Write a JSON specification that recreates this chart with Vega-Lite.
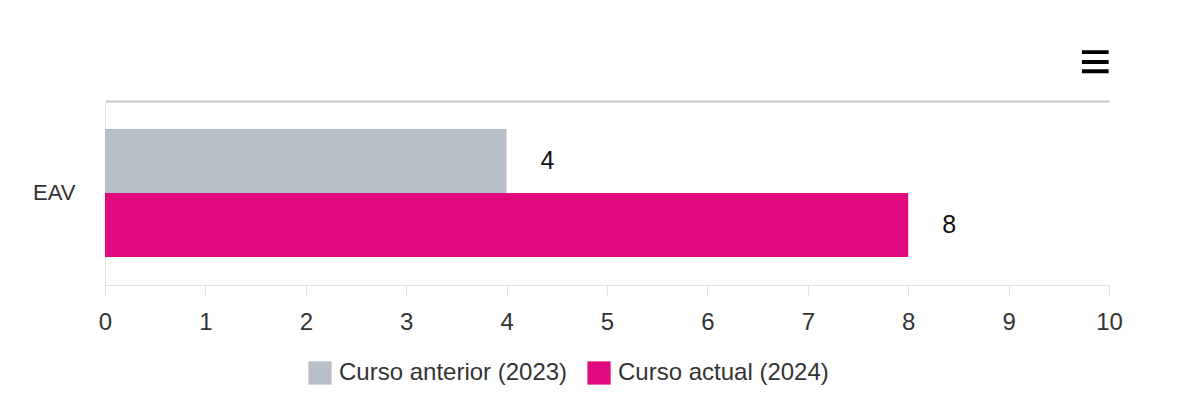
{
  "$schema": "https://vega.github.io/schema/vega-lite/v6.json",
  "autosize": {"type": "none"},
  "padding": {"left": 105, "top": 101, "right": 80, "bottom": 131},
  "width": 1004,
  "height": 184,
  "background": "white",
  "config": {
    "font": "Liberation Sans",
    "view": {"stroke": null}
  },
  "title": {
    "text": "≡",
    "anchor": "end",
    "frame": "group",
    "fontSize": 55,
    "fontWeight": "bold",
    "font": "Liberation Sans",
    "color": "#000000",
    "offset": 9,
    "dx": 2
  },
  "data": {
    "values": [
      {"categoria": "EAV", "serie": "Curso anterior (2023)", "valor": 4},
      {"categoria": "EAV", "serie": "Curso actual (2024)", "valor": 8}
    ]
  },
  "encoding": {
    "y": {
      "field": "categoria",
      "type": "nominal",
      "title": null,
      "scale": {"paddingInner": 0, "paddingOuter": 0.21875},
      "axis": {
        "domain": true,
        "domainColor": "#e6e6e6",
        "domainWidth": 1,
        "ticks": false,
        "labelFontSize": 22,
        "labelColor": "#333333",
        "labelPadding": 30,
        "labelFont": "Liberation Sans"
      }
    },
    "yOffset": {
      "field": "serie",
      "type": "nominal",
      "sort": ["Curso anterior (2023)", "Curso actual (2024)"],
      "scale": {"paddingInner": 0, "paddingOuter": 0}
    }
  },
  "layer": [
    {
      "mark": {"type": "bar"},
      "encoding": {
        "x": {
          "field": "valor",
          "type": "quantitative",
          "title": null,
          "scale": {"domain": [0, 10], "nice": false},
          "axis": {
            "orient": "bottom",
            "values": [0, 1, 2, 3, 4, 5, 6, 7, 8, 9, 10],
            "grid": false,
            "domainColor": "#e0e0e0",
            "domainWidth": 1,
            "tickColor": "#e0e0e0",
            "tickSize": 10,
            "labelFlush": false,
            "labelOverlap": false,
            "labelFontSize": 24,
            "labelColor": "#333333",
            "labelPadding": 15,
            "labelFont": "Liberation Sans"
          }
        },
        "color": {
          "field": "serie",
          "type": "nominal",
          "sort": ["Curso anterior (2023)", "Curso actual (2024)"],
          "scale": {
            "domain": ["Curso anterior (2023)", "Curso actual (2024)"],
            "range": ["#b7bfc8", "#df0a7d"]
          },
          "legend": {
            "title": null,
            "orient": "none",
            "direction": "horizontal",
            "legendX": 203,
            "legendY": 260,
            "symbolType": "square",
            "symbolSize": 540,
            "symbolStrokeWidth": 0,
            "symbolOpacity": 1,
            "labelFontSize": 24,
            "labelLimit": 0,
            "labelColor": "#333333",
            "labelFont": "Liberation Sans",
            "labelOffset": 7,
            "columnPadding": 19
          }
        }
      }
    },
    {
      "mark": {"type": "text", "align": "left", "baseline": "middle", "dx": 34, "fontSize": 25, "color": "#111111", "font": "Liberation Sans"},
      "encoding": {
        "x": {
          "field": "valor",
          "type": "quantitative",
          "scale": {"domain": [0, 10], "nice": false},
          "axis": {
            "orient": "top",
            "title": null,
            "labels": false,
            "ticks": false,
            "grid": false,
            "domainColor": "#c8c8c8",
            "domainWidth": 2
          }
        },
        "text": {"field": "valor", "type": "quantitative"}
      }
    }
  ],
  "resolve": {"axis": {"x": "independent"}}
}
